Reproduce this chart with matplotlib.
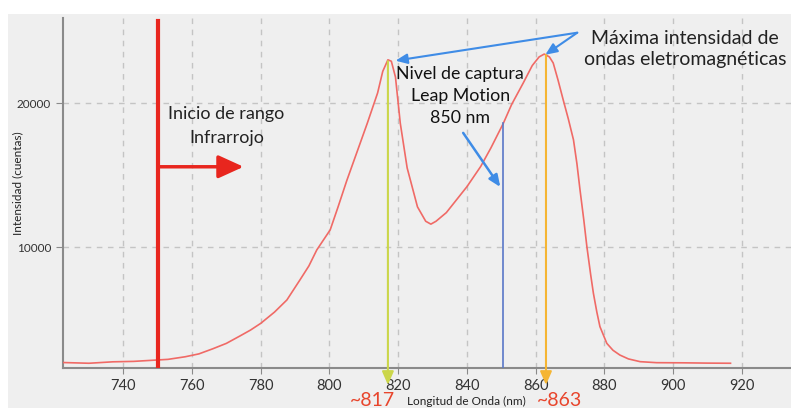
import matplotlib
matplotlib.use('Agg')
import matplotlib.pyplot as plt
from matplotlib.patches import Rectangle

plt.rcParams['font.family'] = ['Lato', 'DejaVu Sans']

# spectrum (nm, counts)
wavelength = [722.5, 730, 737, 743, 748, 753, 758, 762, 766, 770, 774, 777, 780, 784,
              787.6, 791.4, 794, 796.3, 800.2, 802.5, 805, 808, 811, 814, 815.5, 817, 818,
              819.2, 820.6, 822.6, 825.6, 828, 829.5, 831, 834, 837, 840, 844, 847, 850.6,
              853, 856.4, 859, 861, 862.5, 864, 865.1, 866.5, 868, 869.5, 871, 872, 872.9,
              874, 874.9, 876, 876.8, 877.8, 878.7, 880.7, 882.5, 884.5, 887, 890.4, 895.2,
              903, 910, 916.7]
intensity = [2000, 1950, 2050, 2080, 2150, 2220, 2400, 2600, 2950, 3330, 3850, 4250, 4720, 5500,
             6340, 7730, 8700, 9810, 11200, 12800, 14600, 16600, 18600, 20700, 22200, 23000, 22900,
             21800, 18600, 15500, 12800, 11800, 11600, 11800, 12400, 13300, 14200, 15600, 16900, 18600,
             19900, 21400, 22600, 23200, 23400, 23200, 22780, 21600, 20230, 18900, 17450, 15800, 13980,
             11900, 10040, 8100, 6800, 5500, 4490, 3330, 2850, 2520, 2250, 2060, 1990,
             1980, 1960, 1950]

x_ticks = [740, 760, 780, 800, 820, 840, 860, 880, 900, 920]
y_ticks = [10000, 20000]

ir_start = 750
peak_1 = (817, 22900)
peak_2 = (863, 23350)
leap_nm = 850.5
leap_level = 18600

fig = plt.figure(figsize=(7.91, 4.08), dpi=100)
fig.patches.append(Rectangle((8 / 791, 0), 1, 394 / 408, transform=fig.transFigure,
                             facecolor='#efefef', edgecolor='none', zorder=-5))

ax = fig.add_axes([63 / 791, 39.7 / 408, 728 / 791, 350.3 / 408])
ax.set_facecolor('none')
ax.set_xlim(722.45, 934.3)
ax.set_ylim(1600, 25900)
ax.set_xticks(x_ticks)
ax.set_yticks(y_ticks)
ax.grid(True, color='#c4c4c4', linestyle=(0, (4, 4)), linewidth=1)
for s in ['top', 'right']:
    ax.spines[s].set_visible(False)
for s in ['left', 'bottom']:
    ax.spines[s].set_color('#8a8a8a')
    ax.spines[s].set_linewidth(1.5)
ax.tick_params(axis='x', labelsize=10.5, colors='#8a8a8a', labelcolor='#333333', length=4)
ax.tick_params(axis='y', labelsize=8.5, colors='#8a8a8a', labelcolor='#333333', length=5)

ax.plot(wavelength, intensity, color='#f06a66', linewidth=1.2, zorder=3)

# start of infrared range
ax.plot([ir_start, ir_start], [1600, 25700], color='#e8261e', linewidth=3, zorder=4)
ax.annotate('', xy=(775, 15580), xytext=(ir_start, 15580),
            arrowprops=dict(arrowstyle='-|>,head_width=0.5,head_length=1.1', color='#e8261e',
                            lw=2.5, mutation_scale=14, shrinkA=0, shrinkB=0), zorder=4)
ax.text(770, 18420, 'Inicio de rango\nInfrarrojo', ha='center', va='center',
        fontsize=13, color='#222222', linespacing=1.6)

# peak markers
ax.annotate('', xy=(peak_1[0], 450), xytext=peak_1, annotation_clip=False,
            arrowprops=dict(arrowstyle='-|>,head_width=0.35,head_length=0.8', color='#cbd64a',
                            lw=1.5, mutation_scale=10, shrinkA=0, shrinkB=0), zorder=4)
ax.annotate('', xy=(peak_2[0], 450), xytext=peak_2, annotation_clip=False,
            arrowprops=dict(arrowstyle='-|>,head_width=0.35,head_length=0.8', color='#f5b533',
                            lw=1.5, mutation_scale=10, shrinkA=0, shrinkB=0), zorder=4)

# Leap Motion level
ax.plot([leap_nm, leap_nm], [1600, leap_level], color='#5a78c8', linewidth=1.2, zorder=4)
ax.annotate('', xy=(849.7, 14180), xytext=(838.9, 17930),
            arrowprops=dict(arrowstyle='-|>,head_width=0.3,head_length=0.7', color='#3f8ce6',
                            lw=1.8, mutation_scale=10, shrinkA=0, shrinkB=0), zorder=4)
ax.text(838.0, 20500, 'Nivel de captura\nLeap Motion\n850 nm', ha='center', va='center',
        fontsize=12.8, color='#111111', linespacing=1.45, zorder=5)

# maximum intensity
for tip in [(819.2, 22940), (862.8, 23350)]:
    ax.annotate('', xy=tip, xytext=(872.1, 24880), annotation_clip=False,
                arrowprops=dict(arrowstyle='-|>,head_width=0.3,head_length=0.7', color='#3f8ce6',
                                lw=1.5, mutation_scale=10, shrinkA=0, shrinkB=0), zorder=4)
ax.text(903.5, 23750, 'Máxima intensidad de\nondas eletromagnéticas', ha='center', va='center',
        fontsize=14, color='#222222', linespacing=1.3, zorder=5)

fig.text(372 / 791, 1 - 400 / 408, '~817', ha='center', va='center', fontsize=14, color='#e8452c')
fig.text(559 / 791, 1 - 400 / 408, '~863', ha='center', va='center', fontsize=14, color='#e8452c')
fig.text(466 / 791, 1 - 401 / 408, 'Longitud de Onda (nm)', ha='center', va='center',
         fontsize=8.5, color='#222222')
fig.text(18 / 791, 1 - 183 / 408, 'Intensidad (cuentas)', ha='center', va='center',
         rotation=90, fontsize=8.5, color='#222222')

fig.savefig('out.png', dpi=100)
